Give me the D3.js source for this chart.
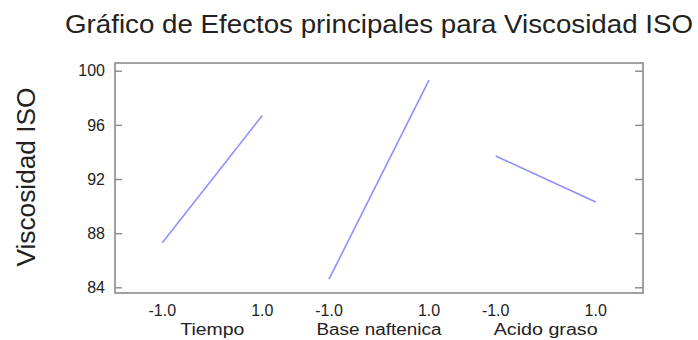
<!DOCTYPE html>
<html><head><meta charset="utf-8">
<script src="https://cdn.jsdelivr.net/npm/d3@7/dist/d3.min.js"></script>
<style>body{margin:0;background:#fff}svg{display:block}text{font-family:"Liberation Sans",Arial,sans-serif}</style>
</head><body>
<script>
const factors = ["Tiempo", "Base naftenica", "Acido graso"];
const levels = [-1, 1];
const levelLabels = ["-1.0", "1.0"];
const means = {
  "Tiempo": [87.3, 96.7],
  "Base naftenica": [84.6, 99.3],
  "Acido graso": [93.7, 90.3]
};
const yTicks = [84, 88, 92, 96, 100];

const W = 698, H = 340;
const pL = 115, pR = 643, pT = 63, pB = 293;
const svg = d3.select("body").append("svg").attr("width", W).attr("height", H);

const y = d3.scaleLinear().domain([83.58, 100.57]).range([pB, pT]);
const band = d3.scaleBand().domain(factors).range([129, 629]);
const inner = d3.scaleLinear().domain([-1, 1]).range([band.bandwidth() * 0.2, band.bandwidth() * 0.8]);
const xPos = (f, l) => band(f) + inner(l);

// frame
svg.append("rect").attr("x", pL).attr("y", pT).attr("width", pR - pL).attr("height", pB - pT)
  .attr("fill", "none").attr("stroke", "#8a8a8a").attr("stroke-width", 1.6);

// left/right axes with inward ticks
const gL = svg.append("g").attr("transform", `translate(${pL},0)`)
  .call(d3.axisRight(y).tickValues(yTicks).tickSize(7).tickFormat(""));
gL.select(".domain").remove();
gL.selectAll("line").attr("stroke", "#8a8a8a").attr("stroke-width", 1.4);
const gR = svg.append("g").attr("transform", `translate(${pR},0)`)
  .call(d3.axisLeft(y).tickValues(yTicks).tickSize(8).tickFormat(""));
gR.select(".domain").remove();
gR.selectAll("line").attr("stroke", "#8a8a8a").attr("stroke-width", 1.4);

// y tick labels
svg.append("g").selectAll("text").data(yTicks).join("text")
  .attr("x", 105).attr("y", d => y(d)).attr("dy", "0.36em")
  .attr("text-anchor", "end").attr("font-size", 16).attr("fill", "#222").text(d => d);

// lines
const line = d3.line().x(d => d[0]).y(d => d[1]);
const labelLen = { "Tiempo": 64, "Base naftenica": 125, "Acido graso": 104 };
factors.forEach(f => {
  const pts = levels.map((l, i) => [xPos(f, l), y(means[f][i])]);
  svg.append("path").attr("d", line(pts)).attr("fill", "none")
    .attr("stroke", "#8f8fff").attr("stroke-width", 1.6);
  levels.forEach((l, i) => {
    svg.append("text").attr("x", xPos(f, l)).attr("y", 316)
      .attr("text-anchor", "middle").attr("font-size", 16).attr("fill", "#222").text(levelLabels[i]);
  });
  svg.append("text").attr("x", band(f) + band.bandwidth() / 2).attr("y", 335)
    .attr("text-anchor", "middle").attr("font-size", 16).attr("fill", "#222")
    .attr("textLength", labelLen[f]).attr("lengthAdjust", "spacingAndGlyphs").text(f);
});

// title
svg.append("text").attr("x", 379).attr("y", 33).attr("text-anchor", "middle")
  .attr("font-size", 25).attr("fill", "#222")
  .attr("textLength", 628).attr("lengthAdjust", "spacingAndGlyphs")
  .text("Gráfico de Efectos principales para Viscosidad ISO");

// y label
svg.append("text").attr("transform", `translate(35,177) rotate(-90)`).attr("text-anchor", "middle")
  .attr("font-size", 25).attr("fill", "#222")
  .attr("textLength", 179).attr("lengthAdjust", "spacingAndGlyphs")
  .text("Viscosidad ISO");
</script>
</body></html>
